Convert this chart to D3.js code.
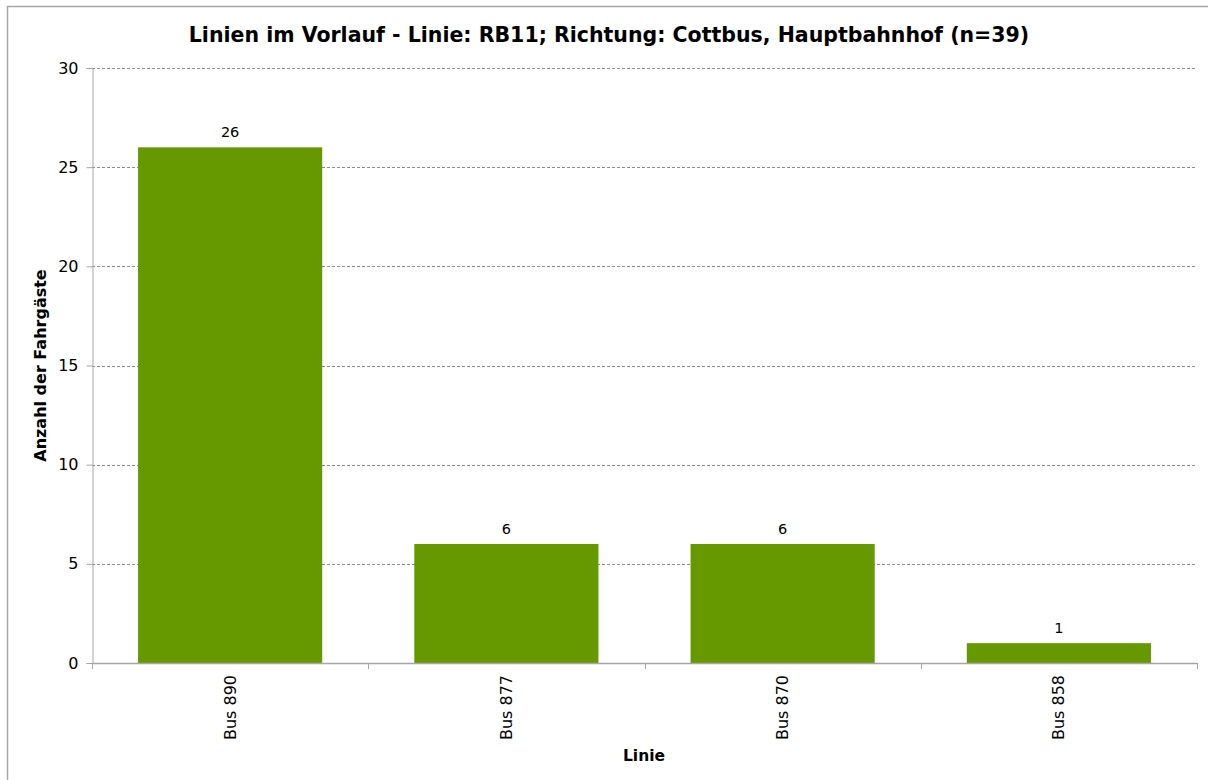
<!DOCTYPE html>
<html>
<head>
<meta charset="utf-8">
<script src="https://cdn.jsdelivr.net/npm/d3@7"></script>
<style>
  body { margin: 0; background: #fff; }
  text { font-family: "DejaVu Sans", sans-serif; fill: #000; }
</style>
</head>
<body>
<svg></svg>
<script>
// Daten
const categories = ["Bus 890", "Bus 877", "Bus 870", "Bus 858"];
const values = [26, 6, 6, 1];
const yTicks = [0, 5, 10, 15, 20, 25, 30];

const width = 1208;
const height = 780;
const margin = { top: 68, right: 11, bottom: 117, left: 92 };

const svg = d3.select("svg")
  .attr("width", width)
  .attr("height", height);

// Rahmen
svg.append("rect")
  .attr("x", 7.5).attr("y", 6.5)
  .attr("width", width + 10).attr("height", height + 10)
  .attr("fill", "none")
  .attr("stroke", "#a6a6a6")
  .attr("stroke-width", 1.5);

const x = d3.scaleBand()
  .domain(categories)
  .range([margin.left, width - margin.right])
  .paddingInner(1 / 3)
  .paddingOuter(1 / 6);

const y = d3.scaleLinear()
  .domain([0, 30])
  .range([height - margin.bottom, margin.top]);

// Gitterlinien
svg.append("g")
  .selectAll("line")
  .data(yTicks.filter(d => d > 0))
  .join("line")
  .attr("x1", margin.left)
  .attr("x2", width - margin.right)
  .attr("y1", d => Math.round(y(d)) + 0.5)
  .attr("y2", d => Math.round(y(d)) + 0.5)
  .attr("stroke", "#8c8c8c")
  .attr("stroke-dasharray", "3,2");

// Balken
svg.append("g")
  .selectAll("rect")
  .data(values)
  .join("rect")
  .attr("x", (d, i) => x(categories[i]))
  .attr("y", d => y(d))
  .attr("width", x.bandwidth())
  .attr("height", d => y(0) - y(d))
  .attr("fill", "#669900");

// Werte
svg.append("g")
  .selectAll("text")
  .data(values)
  .join("text")
  .attr("x", (d, i) => x(categories[i]) + x.bandwidth() / 2)
  .attr("y", d => y(d) - 10)
  .attr("text-anchor", "middle")
  .style("font-size", "14.5px")
  .text(d => d);

// Y-Achse
const yAxis = svg.append("g")
  .attr("transform", `translate(${margin.left + 0.5},0)`)
  .call(d3.axisLeft(y).tickValues(yTicks).tickSize(6).tickPadding(8));
yAxis.selectAll("path, line").attr("stroke", "#a6a6a6");
yAxis.selectAll("text")
  .attr("font-family", null)
  .style("font-size", "16px")
  .style("font-family", "\"DejaVu Sans\", sans-serif");

// X-Achse
const step = x.step();
const bounds = d3.range(categories.length + 1).map(i => margin.left + i * step);
const xg = svg.append("g");
xg.append("line")
  .attr("x1", margin.left).attr("x2", width - margin.right)
  .attr("y1", y(0) + 0.5).attr("y2", y(0) + 0.5)
  .attr("stroke", "#a6a6a6").attr("stroke-width", 1.5);
xg.selectAll("line.tick")
  .data(bounds)
  .join("line")
  .attr("class", "tick")
  .attr("x1", d => Math.round(d) + 0.5).attr("x2", d => Math.round(d) + 0.5)
  .attr("y1", y(0)).attr("y2", y(0) + 6)
  .attr("stroke", "#a6a6a6");
xg.selectAll("text")
  .data(categories)
  .join("text")
  .attr("transform", d => `translate(${x(d) + x.bandwidth() / 2 + 5.5},${y(0) + 12}) rotate(-90)`)
  .attr("text-anchor", "end")
  .style("font-size", "16px")
  .text(d => d);

// Titel
svg.append("text")
  .attr("x", 609)
  .attr("y", 42)
  .attr("text-anchor", "middle")
  .style("font-size", "20.5px")
  .style("font-weight", "bold")
  .text("Linien im Vorlauf - Linie: RB11; Richtung: Cottbus, Hauptbahnhof (n=39)");

// Achsentitel
svg.append("text")
  .attr("x", 644)
  .attr("y", 761)
  .attr("text-anchor", "middle")
  .style("font-size", "15.5px")
  .style("font-weight", "bold")
  .text("Linie");

svg.append("text")
  .attr("transform", `translate(46,${(y(0) + y(30)) / 2}) rotate(-90)`)
  .attr("text-anchor", "middle")
  .style("font-size", "16px")
  .style("font-weight", "bold")
  .text("Anzahl der Fahrgäste");
</script>
</body>
</html>
